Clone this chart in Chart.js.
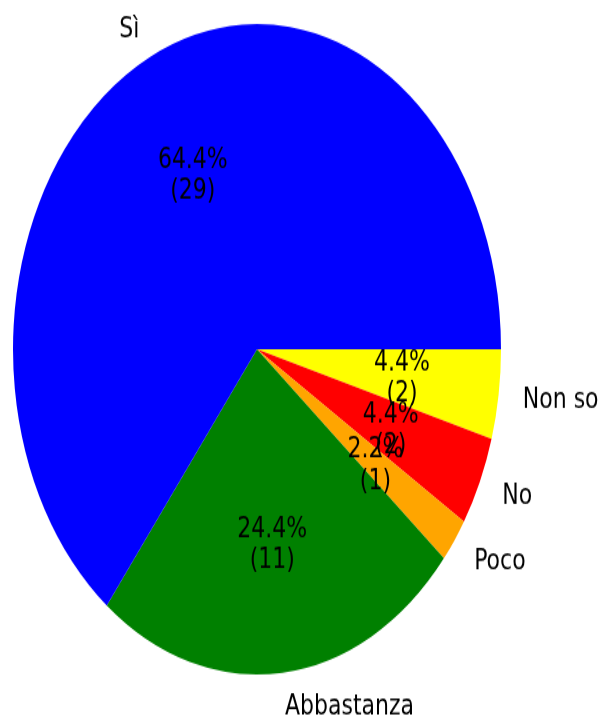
<!DOCTYPE html>
<html>
<head>
<meta charset="utf-8">
<script src="https://cdn.jsdelivr.net/npm/chart.js@4/dist/chart.umd.min.js"></script>
<style>
  html, body { margin: 0; padding: 0; background: #fff; width: 608px; height: 725px; overflow: hidden; }
  #wrap { position: absolute; left: 0; top: 0; width: 608px; height: 544px; transform: scaleY(1.333); transform-origin: 0 0; }
  canvas { display: block; }
</style>
</head>
<body>
<div id="wrap"><canvas id="c" width="608" height="544" style="width:608px;height:544px"></canvas></div>
<script>
// Data (matplotlib order: counter-clockwise from east)
const categories = ['Sì', 'Abbastanza', 'Poco', 'No', 'Non so'];
const counts = [29, 11, 1, 2, 2];
const sliceColors = ['#0000ff', '#008000', '#ffa500', '#ff0000', '#ffff00'];

// Chart.js draws clockwise, so reverse to mimic counter-clockwise order
const labelsCW = categories.slice().reverse();
const countsCW = counts.slice().reverse();
const colorsCW = sliceColors.slice().reverse();
const total = counts.reduce((a, b) => a + b, 0);

const FONT = '22px "DejaVu Sans"';
const LINE = 23.3;
const DY = 1.3;

const labelPlugin = {
  id: 'mplLabels',
  afterDatasetsDraw(chart) {
    const ctx = chart.ctx;
    const meta = chart.getDatasetMeta(0);
    ctx.save();
    ctx.font = FONT;
    ctx.fillStyle = '#000';
    meta.data.forEach((arc, i) => {
      const p = arc.getProps(['x', 'y', 'startAngle', 'endAngle', 'outerRadius'], true);
      const mid = (p.startAngle + p.endAngle) / 2;
      const r = p.outerRadius;
      const v = countsCW[i];
      // percentage text at 0.6 radius
      const px = p.x + 0.6 * r * Math.cos(mid);
      const py = p.y + 0.6 * r * Math.sin(mid) + DY;
      ctx.textAlign = 'center';
      ctx.textBaseline = 'middle';
      const pct = (100 * v / total).toFixed(1) + '%';
      ctx.fillText(pct, px, py - LINE / 2);
      ctx.fillText('(' + v + ')', px, py + LINE / 2);
      // category label at 1.1 radius
      const lx = p.x + 1.1 * r * Math.cos(mid);
      const ly = p.y + 1.1 * r * Math.sin(mid) + DY;
      ctx.textAlign = Math.cos(mid) >= 0 ? 'left' : 'right';
      ctx.fillText(labelsCW[i], lx, ly);
    });
    ctx.restore();
  }
};

new Chart(document.getElementById('c'), {
  type: 'pie',
  data: {
    labels: labelsCW,
    datasets: [{
      data: countsCW,
      backgroundColor: colorsCW,
      borderWidth: 0,
      hoverOffset: 0,
      offset: 0
    }]
  },
  options: {
    responsive: false,
    animation: false,
    devicePixelRatio: 1,
    rotation: 90,
    layout: { padding: { left: 13, top: 18, right: 107, bottom: 38 } },
    plugins: {
      legend: { display: false },
      tooltip: { enabled: false },
      title: { display: false }
    },
    events: []
  },
  plugins: [labelPlugin]
});
</script>
</body>
</html>
